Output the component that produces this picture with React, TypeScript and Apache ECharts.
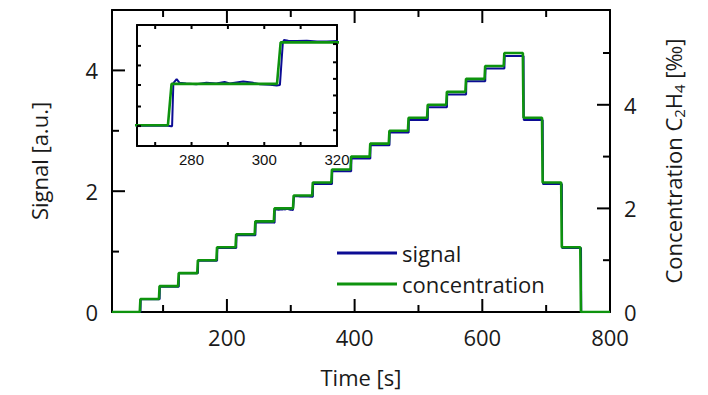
import React, { useEffect, useRef } from 'react';
import * as echarts from 'echarts';

// step times [s] at which the gas concentration was changed
const stepTimes = [64, 94, 124, 154, 184, 214, 244, 274, 304, 334, 364, 394, 424, 454, 484, 514, 544, 574, 604, 634, 664, 694, 724, 754];
// concentration C2H4 [‰] after each step
const concLevels = [0.25, 0.5, 0.75, 1.0, 1.25, 1.5, 1.75, 2.0, 2.25, 2.5, 2.75, 3.0, 3.25, 3.5, 3.75, 4.0, 4.25, 4.5, 4.75, 5.0, 3.75, 2.5, 1.25, 0];
// sensor signal [a.u.] after each step
const signalLevels = [0.21, 0.42, 0.64, 0.85, 1.06, 1.27, 1.48, 1.70, 1.91, 2.12, 2.33, 2.54, 2.76, 2.97, 3.18, 3.39, 3.60, 3.82, 4.03, 4.24, 3.18, 2.12, 1.06, 0];
// detailed signal (265 s – 320 s)
const insetSignalTimes = [265.2, 273.5, 274.4, 274.65, 275.0, 275.9, 276.7, 278.5, 281.3, 284.1, 286.8, 289.1, 290.5, 294.2, 297.0, 298.8, 301.6, 303.4, 304.3, 305.1, 305.4, 306.6, 308.9, 311.7, 314.5, 317.2, 320.2];
const insetSignalValues = [1.481, 1.481, 1.479, 1.479, 1.700, 1.720, 1.701, 1.698, 1.694, 1.701, 1.698, 1.705, 1.698, 1.708, 1.701, 1.694, 1.691, 1.688, 1.690, 1.905, 1.920, 1.917, 1.915, 1.917, 1.913, 1.913, 1.915];

// tick values
const mainXLabels = [200, 400, 600, 800];
const mainXMajor = [200, 400, 600];
const mainXMinor = [100, 300, 500, 700];
const mainYLabels = [0, 2, 4];
const mainYMajor = [2, 4];
const leftMinor = [1, 3];
const rightMinor = [1, 3, 5];
const insetXLabels = [280, 300, 320];
const insetXTicks = [270, 280, 290, 300, 310];
const insetLeftTicks = [1.48, 1.58, 1.69, 1.79, 1.89];
const insetRightTicks = [1.72, 1.825, 1.93, 2.03, 2.13, 2.24];

// axis ranges
const MAIN_X: [number, number] = [20, 800];
const MAIN_L: [number, number] = [0, 5];
const MAIN_R: [number, number] = [0, 5.83];
const INS_X: [number, number] = [265, 320];
const INS_L: [number, number] = [1.378, 1.997];
const INS_R: [number, number] = [1.625, 2.355];

const MAIN_GRID = { left: 112, top: 10, width: 498, height: 302 };
const INSET_GRID = { left: 137, top: 25, width: 200, height: 121 };

const BLUE = '#0c0c94';
const GREEN = '#0e930e';
const FONT = 'Open Sans';

function buildConc(): number[][] {
  const pts: number[][] = [[MAIN_X[0], 0]];
  stepTimes.forEach((t, i) => {
    const prev = i ? concLevels[i - 1] : 0;
    pts.push([t - 0.5, prev], [t + 0.5, concLevels[i]]);
  });
  pts.push([MAIN_X[1], 0]);
  return pts;
}

function buildSignal(): number[][] {
  const pts: number[][] = [[MAIN_X[0], 0]];
  stepTimes.forEach((t, i) => {
    const prev = i ? signalLevels[i - 1] : 0;
    pts.push([t + 0.6, prev], [t + 1.0, signalLevels[i]]);
  });
  pts.push([MAIN_X[1], 0]);
  const lo = insetSignalTimes[0];
  const hi = insetSignalTimes[insetSignalTimes.length - 1];
  const kept = pts.filter((p) => p[0] < lo || p[0] > hi);
  insetSignalTimes.forEach((t, i) => kept.push([t, insetSignalValues[i]]));
  kept.sort((a, b) => a[0] - b[0]);
  return kept;
}

// one short line series per tick mark (length given in pixels, converted to axis units)
function tickSeries(xi: number, yi: number, a: number[], b: number[], z: number) {
  return {
    type: 'line', xAxisIndex: xi, yAxisIndex: yi, data: [a, b], symbol: 'none', silent: true, clip: false,
    lineStyle: { color: '#000', width: 2 }, color: '#000', z, emphasis: { disabled: true },
  };
}

function xTickSet(xi: number, yi: number, vals: number[], yr: [number, number], gridH: number, len: number, z: number) {
  const d = ((yr[1] - yr[0]) / gridH) * len;
  const out: any[] = [];
  vals.forEach((v) => {
    out.push(tickSeries(xi, yi, [v, yr[0]], [v, yr[0] + d], z));
    out.push(tickSeries(xi, yi, [v, yr[1]], [v, yr[1] - d], z));
  });
  return out;
}

function yTickSet(xi: number, yi: number, vals: number[], xr: [number, number], gridW: number, atMax: boolean, len: number, z: number) {
  const d = ((xr[1] - xr[0]) / gridW) * len;
  const x0 = atMax ? xr[1] : xr[0];
  const x1 = atMax ? xr[1] - d : xr[0] + d;
  return vals.map((v) => tickSeries(xi, yi, [x0, v], [x1, v], z));
}

export default function App() {
  const ref = useRef<HTMLDivElement>(null);
  useEffect(() => {
    if (!ref.current) return;
    const chart = echarts.init(ref.current, undefined, { renderer: 'svg' });
    const conc = buildConc();
    const signal = buildSignal();
    const labelStyle = { color: '#1a1a1a', fontFamily: FONT, fontSize: 22 };
    const insetLabel = { color: '#111', fontFamily: 'Liberation Sans', fontSize: 15 };
    const hidden = { show: false };
    const frame = { show: true, onZero: false, lineStyle: { color: '#000', width: 2 } };

    const ticks = [
      ...xTickSet(0, 0, mainXMajor, MAIN_L, MAIN_GRID.height, 13, 4),
      ...xTickSet(0, 0, mainXMinor, MAIN_L, MAIN_GRID.height, 7, 4),
      ...yTickSet(0, 0, mainYMajor, MAIN_X, MAIN_GRID.width, false, 13, 4),
      ...yTickSet(0, 0, leftMinor, MAIN_X, MAIN_GRID.width, false, 7, 4),
      ...yTickSet(0, 1, mainYMajor, MAIN_X, MAIN_GRID.width, true, 13, 4),
      ...yTickSet(0, 1, rightMinor, MAIN_X, MAIN_GRID.width, true, 7, 4),
      ...xTickSet(1, 2, insetXTicks, INS_L, INSET_GRID.height, 4, 8),
      ...yTickSet(1, 2, insetLeftTicks, INS_X, INSET_GRID.width, false, 4, 8),
      ...yTickSet(1, 3, insetRightTicks, INS_X, INSET_GRID.width, true, 4, 8),
    ];

    chart.setOption({
      animation: false,
      grid: [
        { ...MAIN_GRID, containLabel: false },
        { ...INSET_GRID, containLabel: false },
      ],
      legend: {
        left: 332, top: 237, orient: 'vertical', itemWidth: 60, itemHeight: 3, itemGap: 9, icon: 'rect',
        textStyle: { color: '#1a1a1a', fontFamily: FONT, fontSize: 22, lineHeight: 22 },
        data: ['signal', 'concentration'],
      },
      xAxis: [
        { gridIndex: 0, type: 'value', position: 'bottom', min: MAIN_X[0], max: MAIN_X[1], splitLine: hidden, axisLine: frame,
          axisTick: hidden, axisLabel: { ...labelStyle, margin: 14, customValues: mainXLabels },
          name: 'Time [s]', nameLocation: 'middle', nameGap: 54, nameTextStyle: labelStyle },
        { gridIndex: 1, type: 'value', position: 'bottom', min: INS_X[0], max: INS_X[1], splitLine: hidden, axisLine: frame,
          axisTick: hidden, axisLabel: { ...insetLabel, margin: 6, customValues: insetXLabels } },
        { gridIndex: 0, type: 'value', position: 'top', min: MAIN_X[0], max: MAIN_X[1], splitLine: hidden, axisLine: frame,
          axisTick: hidden, axisLabel: hidden },
        { gridIndex: 1, type: 'value', position: 'top', min: INS_X[0], max: INS_X[1], splitLine: hidden, axisLine: frame,
          axisTick: hidden, axisLabel: hidden },
      ],
      yAxis: [
        { gridIndex: 0, type: 'value', position: 'left', min: MAIN_L[0], max: MAIN_L[1], splitLine: hidden, axisLine: frame,
          axisTick: hidden, axisLabel: { ...labelStyle, margin: 14, customValues: mainYLabels },
          name: 'Signal [a.u.]', nameLocation: 'middle', nameGap: 62, nameTextStyle: labelStyle },
        { gridIndex: 0, type: 'value', position: 'right', min: MAIN_R[0], max: MAIN_R[1], splitLine: hidden, axisLine: frame,
          axisTick: hidden, axisLabel: { ...labelStyle, margin: 14, customValues: mainYLabels },
          name: 'Concentration C{sub|2}H{sub|4} [‰]', nameLocation: 'middle', nameGap: 50, nameRotate: 90,
          nameTextStyle: { ...labelStyle, lineHeight: 26, rich: { sub: { fontFamily: FONT, fontSize: 15, lineHeight: 14, verticalAlign: 'bottom', color: '#1a1a1a' } } } },
        { gridIndex: 1, type: 'value', position: 'left', min: INS_L[0], max: INS_L[1], splitLine: hidden, axisLine: frame,
          axisTick: hidden, axisLabel: hidden },
        { gridIndex: 1, type: 'value', position: 'right', min: INS_R[0], max: INS_R[1], splitLine: hidden, axisLine: frame,
          axisTick: hidden, axisLabel: hidden },
      ],
      series: [
        { name: 'signal', type: 'line', xAxisIndex: 0, yAxisIndex: 0, data: signal, symbol: 'none', color: BLUE,
          lineStyle: { color: BLUE, width: 2 }, z: 2 },
        { name: 'concentration', type: 'line', xAxisIndex: 0, yAxisIndex: 1, data: conc, symbol: 'none', color: GREEN,
          lineStyle: { color: GREEN, width: 2.6 }, z: 3 },
        { name: 'signal', type: 'line', xAxisIndex: 1, yAxisIndex: 2, data: signal, symbol: 'none', color: BLUE,
          lineStyle: { color: BLUE, width: 2 }, z: 6 },
        { name: 'concentration', type: 'line', xAxisIndex: 1, yAxisIndex: 3, data: conc, symbol: 'none', color: GREEN,
          lineStyle: { color: GREEN, width: 2.6 }, z: 7 },
        ...ticks,
      ],
    });

    return () => chart.dispose();
  }, []);
  return <div ref={ref} style={{ position: 'fixed', left: 0, top: 0, width: 708, height: 395, background: '#fff' }} />;
}
